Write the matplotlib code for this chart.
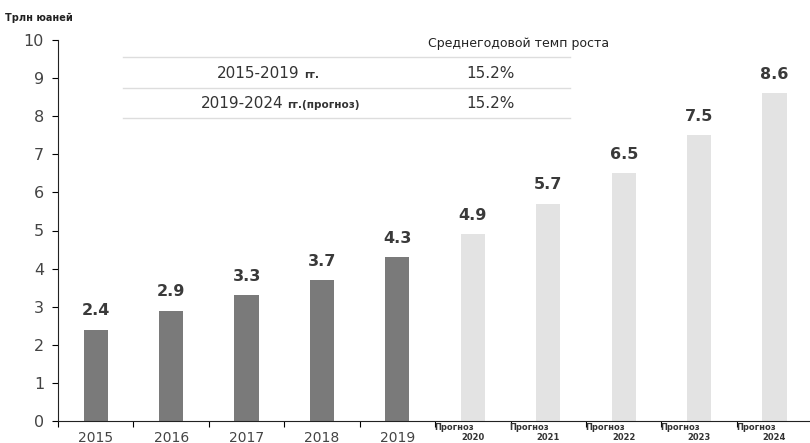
import matplotlib
matplotlib.use("Agg")
import matplotlib.pyplot as plt

plt.rcParams['font.family'] = ['DejaVu Sans']

years = ["2015", "2016", "2017", "2018", "2019", "2020", "2021", "2022", "2023", "2024"]
values = [2.4, 2.9, 3.3, 3.7, 4.3, 4.9, 5.7, 6.5, 7.5, 8.6]
is_forecast = [False, False, False, False, False, True, True, True, True, True]
y_ticks = [0, 1, 2, 3, 4, 5, 6, 7, 8, 9, 10]
unit_label = "Трлн юаней"
table_header = "Среднегодовой темп роста"
table_periods = ["2015-2019", "2019-2024"]
table_suffixes = ["гг.", "гг.(прогноз)"]
table_rates = ["15.2%", "15.2%"]
forecast_word = "Прогноз"

W, H = 810, 443
fig = plt.figure(figsize=(W / 100, H / 100), dpi=100)
ax = fig.add_axes([58 / W, 1 - 421 / H, 752 / W, (421 - 40) / H])

x = list(range(len(years)))
colors = ["#e3e3e3" if f else "#7a7a7a" for f in is_forecast]
ax.bar(x, values, width=0.32, color=colors, zorder=2)

for xi, v in zip(x, values):
    ax.text(xi, v + 0.3, f"{v:.1f}", ha="center", va="bottom",
            fontsize=11.5, fontweight="bold", color="#3a3a3a")

ax.set_xlim(-0.5, 9.47)
ax.set_ylim(0, 10)
ax.set_yticks(y_ticks)
ax.tick_params(axis="y", labelsize=11.5, labelcolor="#444444", length=4,
               direction="out", pad=6)
ax.set_xticks([i - 0.5 for i in range(len(years))])
ax.tick_params(axis="x", length=4, direction="out", labelbottom=False)
for s in ["top", "right"]:
    ax.spines[s].set_visible(False)
ax.spines["left"].set_color("#222222")
ax.spines["bottom"].set_color("#222222")

# category labels under the axis
for xi, yr, f in zip(x, years, is_forecast):
    if f:
        ax.text(xi - 0.25, -0.06, forecast_word, ha="center", va="top",
                fontsize=6, fontweight="bold", color="#333333", clip_on=False)
        ax.text(xi, -0.54, yr, ha="center", va="bottom", fontsize=6,
                fontweight="bold", color="#333333", clip_on=False)
    else:
        ax.text(xi, -0.25, yr, ha="center", va="top", fontsize=10,
                color="#444444", clip_on=False)

fig.text(5 / W, 1 - 18 / H, unit_label, ha="left", va="center",
         fontsize=7, fontweight="bold", color="#222222")

# growth-rate summary table
fig.text(519 / W, 1 - 43 / H, table_header, ha="center", va="center",
         fontsize=9, color="#222222")
for ly in [57, 88, 118]:
    fig.add_artist(plt.Line2D([123 / W, 570 / W], [1 - ly / H, 1 - ly / H],
                              color="#dddddd", linewidth=1))
row_y = [73, 103]
period_right = [300, 283]
for period, suffix, rate, ry, pr in zip(table_periods, table_suffixes,
                                        table_rates, row_y, period_right):
    y0 = 1 - ry / H
    fig.text(pr / W, y0, period, ha="right", va="center", fontsize=11,
             color="#333333")
    fig.text((pr + 4) / W, y0 - 0.004, suffix, ha="left", va="center",
             fontsize=7.5, fontweight="bold", color="#333333")
    fig.text(490 / W, y0, rate, ha="center", va="center", fontsize=11,
             color="#333333")

fig.savefig("out.png", dpi=100, facecolor="white")
